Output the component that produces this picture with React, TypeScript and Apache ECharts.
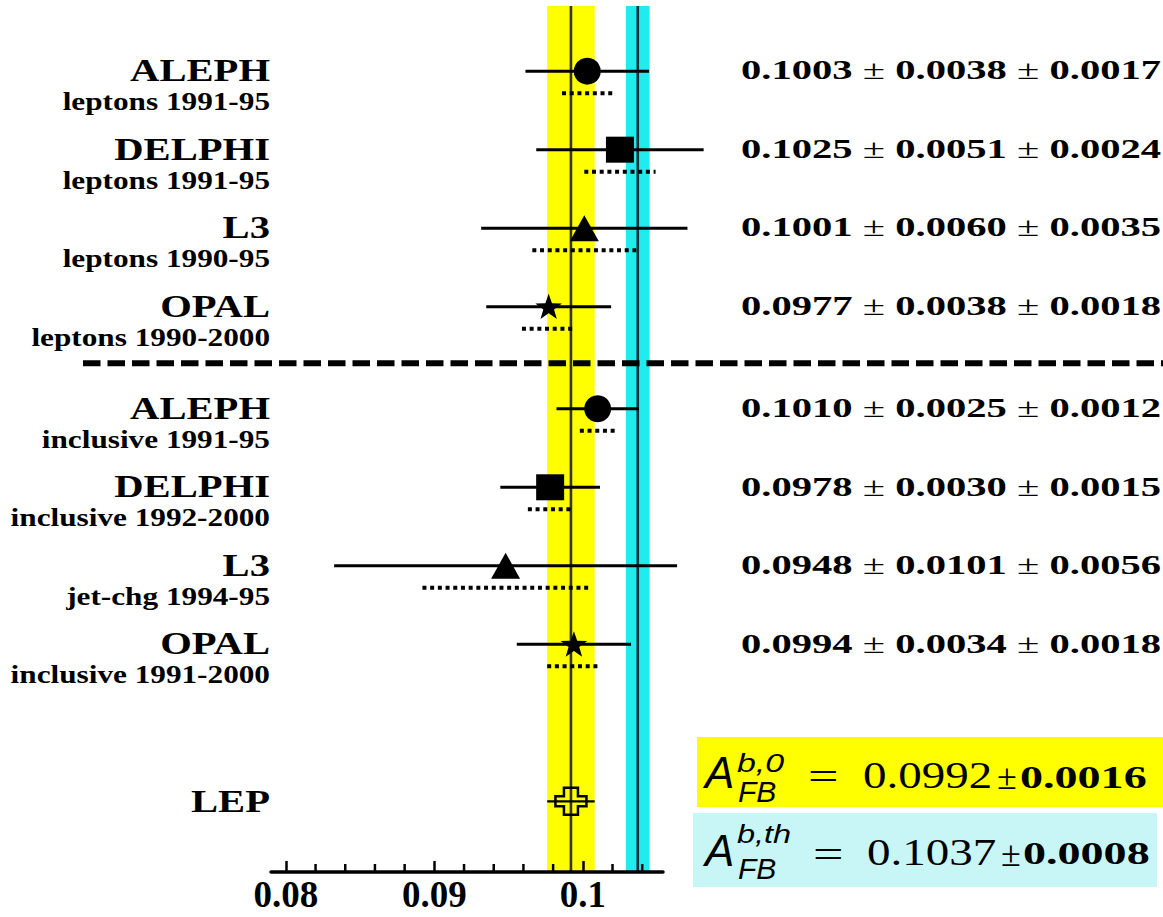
import React, { useEffect, useRef } from 'react';
import * as echarts from 'echarts';

// ---------- data ----------
const experiments = ['ALEPH', 'DELPHI', 'L3', 'OPAL', 'ALEPH', 'DELPHI', 'L3', 'OPAL'];
const methods = [
  'leptons 1991-95',
  'leptons 1991-95',
  'leptons 1990-95',
  'leptons 1990-2000',
  'inclusive 1991-95',
  'inclusive 1992-2000',
  'jet-chg 1994-95',
  'inclusive 1991-2000',
];
const centralValues = [0.1003, 0.1025, 0.1001, 0.0977, 0.101, 0.0978, 0.0948, 0.0994];
const statErrors = [0.0038, 0.0051, 0.006, 0.0038, 0.0025, 0.003, 0.0101, 0.0034];
const systErrors = [0.0017, 0.0024, 0.0035, 0.0018, 0.0012, 0.0015, 0.0056, 0.0018];
const markerShapes = ['circle', 'square', 'triangle', 'star', 'circle', 'square', 'triangle', 'star'];
const rowPositions = [0, 1, 2, 3, 4.3, 5.3, 6.3, 7.3];
const separatorPosition = 3.72;

const lepName = 'LEP';
const lepPosition = 9.3;
const lepValue = [0.0992, 0.0016];
const theoryValue = [0.1037, 0.0008];

const majorTicks = [0.08, 0.09, 0.1];
const minorTicks = [0.082, 0.084, 0.086, 0.088, 0.092, 0.094, 0.096, 0.098, 0.102, 0.104];

const X_MIN = 0.079;
const X_MAX = 0.1054;
const Y_MIN = -0.83;
const Y_MAX = 10.2;

const SERIF = '"Liberation Serif", "Times New Roman", serif';
const SANS = '"Liberation Sans", Arial, sans-serif';

const fmt = (v: number) => v.toFixed(4);

function starPoints(cx: number, cy: number, R: number, r: number) {
  const pts: number[][] = [];
  for (let k = 0; k < 10; k++) {
    const rad = k % 2 === 0 ? R : r;
    const a = -Math.PI / 2 + (k * Math.PI) / 5;
    pts.push([cx + rad * Math.cos(a), cy + rad * Math.sin(a)]);
  }
  return pts;
}

function markerEl(shape: string, x: number, y: number): any {
  const fill = { fill: '#000' };
  switch (shape) {
    case 'circle':
      return { type: 'circle', shape: { cx: x, cy: y, r: 13.5 }, style: fill };
    case 'square':
      return { type: 'rect', shape: { x: x - 14, y: y - 13, width: 28, height: 26 }, style: fill };
    case 'triangle':
      return {
        type: 'polygon',
        shape: { points: [[x, y - 13], [x + 14.5, y + 13], [x - 14.5, y + 13]] },
        style: fill,
      };
    case 'star':
      return { type: 'polygon', shape: { points: starPoints(x, y + 1, 14, 5.6) }, style: fill };
    case 'cross': {
      const w = 15.5, h = 13.5, a = 7, b = 5;
      const pts = [
        [-a, -h], [a, -h], [a, -b], [w, -b], [w, b], [a, b],
        [a, h], [-a, h], [-a, b], [-w, b], [-w, -b], [-a, -b],
      ].map(([px, py]) => [x + px, y + py]);
      return {
        type: 'polygon',
        shape: { points: pts },
        style: { fill: 'none', stroke: '#000', lineWidth: 2.5 },
      };
    }
  }
  return null;
}

function textEl(
  text: string,
  x: number,
  y: number,
  opts: { size: number; family?: string; weight?: string; italic?: boolean; align?: string; scaleX?: number; rich?: any }
): any {
  const align = opts.align || 'left';
  return {
    type: 'text',
    x,
    y,
    scaleX: opts.scaleX || 1,
    style: {
      text,
      fontSize: opts.size,
      fontFamily: opts.family || SERIF,
      fontWeight: opts.weight || 'normal',
      fontStyle: opts.italic ? 'italic' : 'normal',
      fill: '#000',
      align,
      textAlign: align,
      verticalAlign: 'middle',
      textVerticalAlign: 'middle',
      rich: opts.rich,
    },
  };
}

export default function App() {
  const ref = useRef<HTMLDivElement>(null);

  useEffect(() => {
    if (!ref.current) return;
    const chart = echarts.init(ref.current, null, { renderer: 'svg' });

    const rowData = centralValues.map((v, i) => [v, rowPositions[i], statErrors[i], systErrors[i], i]);
    rowData.push([lepValue[0], lepPosition, lepValue[1], 0, 8]);

    const rich = {
      b: { fontFamily: SERIF, fontWeight: 'bold', fontSize: 28 },
      n: { fontFamily: SERIF, fontWeight: 'normal', fontSize: 28 },
    };

    const option: any = {
      animation: false,
      backgroundColor: '#fff',
      grid: { left: 271, right: 500, top: 6, bottom: 45, containLabel: false },
      xAxis: {
        type: 'value',
        min: X_MIN,
        max: X_MAX,
        z: 10,
        splitLine: { show: false },
        axisLine: { show: true, onZero: false, lineStyle: { color: '#000', width: 3.5 } },
        axisTick: {
          show: true,
          inside: true,
          length: 11,
          customValues: majorTicks,
          lineStyle: { color: '#000', width: 2.5 },
        },
        axisLabel: {
          show: true,
          customValues: majorTicks,
          margin: 4,
          color: '#000',
          fontFamily: SERIF,
          fontWeight: 'bold',
          fontSize: 37,
          formatter: (v: number) => String(+v.toFixed(4)),
        },
      },
      yAxis: {
        type: 'value',
        min: Y_MIN,
        max: Y_MAX,
        inverse: true,
        show: false,
      },
      series: [
        {
          type: 'custom',
          name: 'bands',
          z: 1,
          silent: true,
          data: [
            [lepValue[0], lepPosition, lepValue[1], 0],
            [theoryValue[0], lepPosition, theoryValue[1], 1],
          ],
          encode: { x: 0, y: 1 },
          renderItem: (params: any, api: any) => {
            const c = api.value(0);
            const e = api.value(2);
            const k = api.value(3);
            const cs = params.coordSys;
            const x1 = api.coord([c - e, 0])[0];
            const x2 = api.coord([c + e, 0])[0];
            const xc = api.coord([c, 0])[0];
            return {
              type: 'group',
              children: [
                {
                  type: 'rect',
                  shape: { x: x1, y: cs.y, width: x2 - x1, height: cs.height },
                  style: { fill: k ? '#1fecef' : '#ffff00' },
                },
                {
                  type: 'line',
                  shape: { x1: xc, y1: cs.y, x2: xc, y2: cs.y + cs.height },
                  style: { stroke: k ? '#0d3434' : '#35331a', lineWidth: 2.6 },
                },
              ],
            };
          },
        },
        {
          type: 'custom',
          name: 'separator',
          z: 11,
          silent: true,
          clip: false,
          data: [[0.09, separatorPosition]],
          encode: { x: 0, y: 1 },
          renderItem: (params: any, api: any) => {
            const y = api.coord([api.value(0), api.value(1)])[1];
            return {
              type: 'line',
              shape: { x1: 83, y1: y, x2: 1163, y2: y },
              style: { stroke: '#000', lineWidth: 6, lineDash: [17.5, 7] },
            };
          },
        },
        {
          type: 'custom',
          name: 'minorTicks',
          z: 12,
          silent: true,
          clip: false,
          data: minorTicks.map((v) => [v, Y_MAX]),
          encode: { x: 0, y: 1 },
          renderItem: (params: any, api: any) => {
            const p = api.coord([api.value(0), api.value(1)]);
            return {
              type: 'rect',
              shape: { x: p[0] - 1.25, y: p[1] - 8, width: 2.5, height: 8 },
              style: { fill: '#000' },
            };
          },
        },
        {
          type: 'custom',
          name: 'measurements',
          z: 5,
          silent: true,
          clip: false,
          data: rowData,
          encode: { x: 0, y: 1 },
          renderItem: (params: any, api: any) => {
            const c = api.value(0);
            const yv = api.value(1);
            const st = api.value(2);
            const sy = api.value(3);
            const i = api.value(4);
            const tot = Math.sqrt(st * st + sy * sy);
            const [xc, yc] = api.coord([c, yv]);
            const xl = api.coord([c - tot, yv])[0];
            const xr = api.coord([c + tot, yv])[0];
            const children: any[] = [];
            children.push({
              type: 'line',
              shape: { x1: xl, y1: yc, x2: xr, y2: yc },
              style: { stroke: '#000', lineWidth: i === 8 ? 2.4 : 3 },
            });
            if (sy > 0) {
              const sl = api.coord([c - sy, yv])[0];
              const sr = api.coord([c + sy, yv])[0];
              children.push({
                type: 'line',
                shape: { x1: sl, y1: yc + 22, x2: sr, y2: yc + 22 },
                style: { stroke: '#000', lineWidth: 4, lineDash: [4, 3.7] },
              });
            }
            if (i < 8) {
              children.push(markerEl(markerShapes[i], xc, yc));
              children.push(
                textEl(experiments[i], 270, yc - 1, { size: 32, weight: 'bold', align: 'right', scaleX: 1.27 })
              );
              children.push(
                textEl(methods[i], 270, yc + 30.5, { size: 25, weight: 'bold', align: 'right', scaleX: 1.25 })
              );
              children.push(
                textEl(
                  `{b|${fmt(c)}} {n|\u00b1} {b|${fmt(st)}} {n|\u00b1} {b|${fmt(sy)}}`,
                  741,
                  yc - 1,
                  { size: 28, weight: 'bold', scaleX: 1.45, rich }
                )
              );
            } else {
              children.push(markerEl('cross', xc, yc));
              children.push(textEl(lepName, 270, yc, { size: 32, weight: 'bold', align: 'right', scaleX: 1.27 }));
            }
            return { type: 'group', children };
          },
        },
      ],
      graphic: [
        { type: 'rect', z: 20, shape: { x: 697, y: 737, width: 466, height: 70 }, style: { fill: '#ffff00' } },
        { type: 'rect', z: 20, shape: { x: 693, y: 813, width: 464, height: 74 }, style: { fill: '#c8f5f6' } },
        // yellow box
        { ...textEl('A', 705, 772.5, { size: 44, family: SANS, italic: true }), z: 21 },
        { ...textEl('b,0', 737, 763, { size: 26, family: SANS, italic: true, scaleX: 1.3 }), z: 21 },
        { ...textEl('FB', 738, 791, { size: 30, family: SANS, italic: true }), z: 21 },
        { ...textEl('=', 808, 777, { size: 40, scaleX: 1.35 }), z: 21 },
        { ...textEl(fmt(lepValue[0]), 863, 775.5, { size: 37, scaleX: 1.27 }), z: 21 },
        { ...textEl('\u00b1', 997, 777, { size: 36 }), z: 21 },
        { ...textEl(fmt(lepValue[1]), 1020, 777.5, { size: 32, weight: 'bold', scaleX: 1.44 }), z: 21 },
        // cyan box
        { ...textEl('A', 705, 850, { size: 44, family: SANS, italic: true }), z: 21 },
        { ...textEl('b,th', 737, 834, { size: 26, family: SANS, italic: true, scaleX: 1.25 }), z: 21 },
        { ...textEl('FB', 738, 868.5, { size: 30, family: SANS, italic: true }), z: 21 },
        { ...textEl('=', 813, 855, { size: 40, scaleX: 1.35 }), z: 21 },
        { ...textEl(fmt(theoryValue[0]), 867, 852.5, { size: 37, scaleX: 1.27 }), z: 21 },
        { ...textEl('\u00b1', 1001, 854, { size: 36 }), z: 21 },
        { ...textEl(fmt(theoryValue[1]), 1023, 854, { size: 32, weight: 'bold', scaleX: 1.44 }), z: 21 },
      ],
    };

    chart.setOption(option);
    return () => chart.dispose();
  }, []);

  return (
    <div
      ref={ref}
      style={{ position: 'fixed', left: 0, top: 0, width: 1163, height: 917, background: '#fff' }}
    />
  );
}
